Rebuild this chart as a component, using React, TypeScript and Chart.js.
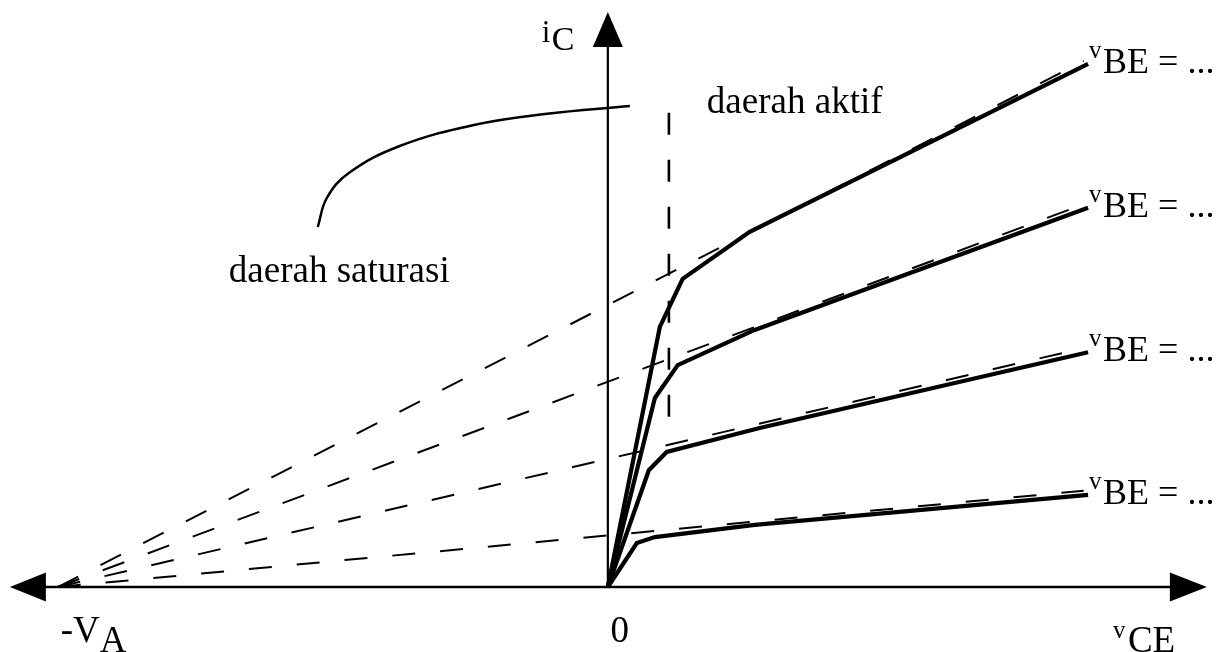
import { useEffect, useRef } from 'react';
import { Chart, registerables } from 'chart.js';

Chart.register(...registerables);

// Axis window: vCE (horizontal) and iC (vertical), arbitrary units
const X_MIN = -110.5;
const X_MAX = 113.1;
const Y_MIN = -11.07;
const Y_MAX = 100;

// Early voltage (all active-region tangents meet at -VA)
const VA = 100;

// Drawn extent of the axes
const AXIS_X_LEFT = -108.7;
const AXIS_X_RIGHT = 108.9;
const AXIS_Y_TOP = 97.95;

// Output characteristics, one per vBE (top to bottom)
const vce1 = [0, 9.45, 13.6, 25.8, 87.3];
const ic1 = [0, 44.3, 52.5, 60.5, 89.1];
const vce2 = [0, 8.55, 12.7, 26.7, 87.3];
const ic2 = [0, 32.2, 37.8, 43.8, 64.6];
const vce3 = [0, 7.45, 10.7, 27.6, 87.3];
const ic3 = [0, 19.9, 23.0, 27.1, 40.0];
const vce4 = [0, 5.27, 8.55, 26.7, 87.3];
const ic4 = [0, 7.5, 8.5, 10.6, 15.7];

// Extrapolated active-region lines, from -VA to their right end
const tangentEndX = 86.5;
const tangentEndY = [89.6, 65.2, 40.7, 16.4];

// Boundary between saturation and active regions (drawn bottom to top)
const boundaryX = [11.1, 11.1];
const boundaryY = [29.0, 82.6];

// Callout from the "daerah saturasi" label to the axis
const calloutX = [-52.73, -51.09, -47.09, -37.82, -24.36, -11.45, 4.0];
const calloutY = [61.33, 66.27, 70.53, 75.13, 78.71, 80.58, 81.94];

// Text
const curveLabelV = 'v';
const curveLabelRest = 'BE = ...';
const activeLabel = 'daerah aktif';
const activePos = [18.0, 80.75];
const satLabel = 'daerah saturasi';
const satPos = [-68.9, 51.96];
const originLabel = '0';

const zip = (xs: number[], ys: number[]) => xs.map((x, i) => ({ x, y: ys[i] }));

const SERIF = '"Liberation Serif", "Times New Roman", serif';

const annotate = {
  id: 'annotate',
  beforeDatasetsDraw(chart: any) {
    const { ctx, scales } = chart;
    const px = (v: number) => scales.x.getPixelForValue(v);
    const py = (v: number) => scales.y.getPixelForValue(v);
    const ox = px(0);
    const oy = py(0);
    ctx.save();
    ctx.strokeStyle = '#000';
    ctx.fillStyle = '#000';
    ctx.lineWidth = 2.5;
    ctx.beginPath();
    ctx.moveTo(px(AXIS_X_LEFT) + 20, oy);
    ctx.lineTo(px(AXIS_X_RIGHT) - 20, oy);
    ctx.stroke();
    ctx.lineWidth = 2.2;
    ctx.beginPath();
    ctx.moveTo(ox, oy);
    ctx.lineTo(ox, py(AXIS_Y_TOP) + 20);
    ctx.stroke();

    // arrowheads
    const xr = px(AXIS_X_RIGHT);
    const xl = px(AXIS_X_LEFT);
    const yt = py(AXIS_Y_TOP);
    ctx.beginPath();
    ctx.moveTo(xr, oy);
    ctx.lineTo(xr - 37, oy - 14.5);
    ctx.lineTo(xr - 37, oy + 14.5);
    ctx.closePath();
    ctx.fill();
    ctx.beginPath();
    ctx.moveTo(xl, oy);
    ctx.lineTo(xl + 36, oy - 14.5);
    ctx.lineTo(xl + 36, oy + 14.5);
    ctx.closePath();
    ctx.fill();
    ctx.beginPath();
    ctx.moveTo(ox, yt);
    ctx.lineTo(ox - 15, yt + 35);
    ctx.lineTo(ox + 15, yt + 35);
    ctx.closePath();
    ctx.fill();
    ctx.restore();
  },
  afterDatasetsDraw(chart: any) {
    const { ctx, scales } = chart;
    const px = (v: number) => scales.x.getPixelForValue(v);
    const py = (v: number) => scales.y.getPixelForValue(v);
    const ox = px(0);
    const oy = py(0);
    const big = `36px ${SERIF}`;
    const small = `25px ${SERIF}`;
    ctx.save();
    ctx.fillStyle = '#000';
    ctx.textBaseline = 'alphabetic';
    ctx.textAlign = 'left';

    // iC
    ctx.font = `31px ${SERIF}`;
    ctx.fillText('i', ox - 66, py(AXIS_Y_TOP) + 30);
    ctx.font = `34px ${SERIF}`;
    ctx.fillText('C', ox - 56, py(AXIS_Y_TOP) + 38);

    // vCE
    const xr = px(AXIS_X_RIGHT);
    ctx.font = small;
    ctx.fillText('v', xr - 94, oy + 51);
    ctx.font = `37px ${SERIF}`;
    ctx.fillText('CE', xr - 79, oy + 65);

    // -VA
    ctx.font = `37px ${SERIF}`;
    ctx.fillText('-V', px(-VA) + 3, oy + 55);
    ctx.fillText('A', px(-VA) + 42, oy + 65);

    // origin
    ctx.textAlign = 'center';
    ctx.fillText(originLabel, ox + 12, oy + 55);
    ctx.textAlign = 'left';

    // vBE labels at the right end of each curve
    const ends = [
      [vce1[vce1.length - 1], ic1[ic1.length - 1]],
      [vce2[vce2.length - 1], ic2[ic2.length - 1]],
      [vce3[vce3.length - 1], ic3[ic3.length - 1]],
      [vce4[vce4.length - 1], ic4[ic4.length - 1]],
    ];
    ends.forEach(([ex, ey]) => {
      const lx = px(ex);
      const ly = py(ey);
      ctx.font = small;
      ctx.fillText(curveLabelV, lx + 1, ly - 6);
      ctx.font = big;
      ctx.fillText(curveLabelRest, lx + 15, ly + 9);
    });

    // region labels
    ctx.font = `37px ${SERIF}`;
    ctx.fillText(activeLabel, px(activePos[0]), py(activePos[1]));
    ctx.fillText(satLabel, px(satPos[0]), py(satPos[1]));
    ctx.restore();
  },
};

export default function App() {
  const canvasRef = useRef<HTMLCanvasElement | null>(null);

  useEffect(() => {
    const canvas = canvasRef.current;
    if (!canvas) return;

    const solid = (xs: number[], ys: number[]) => ({
      data: zip(xs, ys),
      borderColor: '#000',
      borderWidth: 4.2,
      borderJoinStyle: 'miter' as const,
      pointRadius: 0,
      tension: 0,
      fill: false,
    });
    const tangent = (endY: number) => ({
      data: [
        { x: -VA, y: 0 },
        { x: tangentEndX, y: endY },
      ],
      borderColor: '#000',
      borderWidth: 2,
      borderDash: [23, 25],
      pointRadius: 0,
      tension: 0,
      fill: false,
    });

    const chart = new Chart(canvas, {
      type: 'line',
      data: {
        datasets: [
          ...tangentEndY.map(tangent),
          {
            data: zip(boundaryX, boundaryY),
            borderColor: '#000',
            borderWidth: 2.6,
            borderDash: [22, 25],
            pointRadius: 0,
            fill: false,
          },
          {
            data: zip(calloutX, calloutY),
            borderColor: '#000',
            borderWidth: 2.5,
            tension: 0.4,
            pointRadius: 0,
            fill: false,
          },
          solid(vce1, ic1),
          solid(vce2, ic2),
          solid(vce3, ic3),
          solid(vce4, ic4),
        ] as any,
      },
      options: {
        animation: false,
        responsive: false,
        devicePixelRatio: 1,
        layout: { padding: 0 },
        plugins: {
          legend: { display: false },
          tooltip: { enabled: false },
        },
        events: [],
        scales: {
          x: { type: 'linear', min: X_MIN, max: X_MAX, display: false },
          y: { type: 'linear', min: Y_MIN, max: Y_MAX, display: false },
        },
      },
      plugins: [annotate],
    });

    return () => chart.destroy();
  }, []);

  return (
    <div style={{ position: 'absolute', left: 0, top: 0, width: 1230, height: 652, background: '#fff' }}>
      <canvas ref={canvasRef} width={1230} height={652} style={{ display: 'block' }} />
    </div>
  );
}
